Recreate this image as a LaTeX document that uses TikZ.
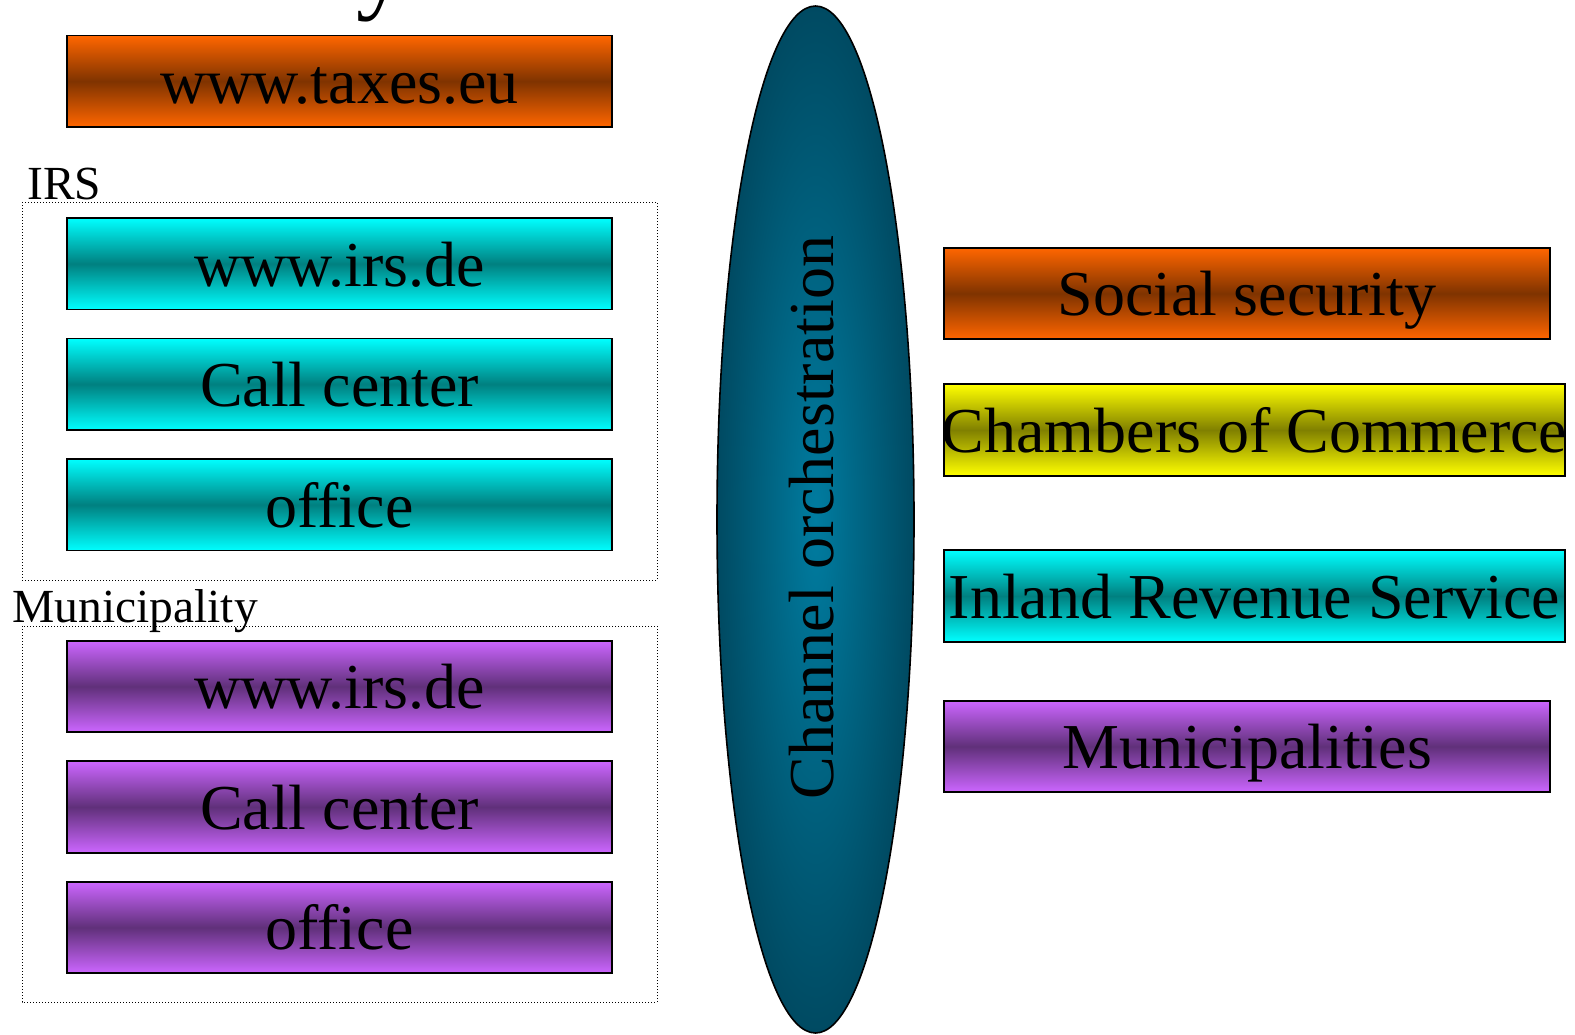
\documentclass[tikz,border=0pt]{standalone}
\usepackage{fontspec}
\setmainfont{Liberation Serif}
\usetikzlibrary{shapes.geometric}
\definecolor{orangeL}{RGB}{255,102,0}
\definecolor{orangeD}{RGB}{127,51,0}
\definecolor{cyanL}{RGB}{0,255,255}
\definecolor{cyanD}{RGB}{0,128,128}
\definecolor{purpleL}{RGB}{204,102,255}
\definecolor{purpleD}{RGB}{96,48,122}
\definecolor{yellowL}{RGB}{255,255,0}
\definecolor{yellowD}{RGB}{128,128,0}
\definecolor{ellIn}{RGB}{0,124,160}
\definecolor{ellOut}{RGB}{0,74,98}
\tikzset{
  box/.style={draw=black, line width=0.9pt, rectangle, inner sep=0pt,
    text height=24pt, text depth=1.75pt,
    minimum height=45.75pt, font=\fontsize{32}{36}\selectfont},
  leftbox/.style={box, minimum width=272.5pt},
  rightbox/.style={box, minimum width=303pt},
  widebox/.style={box, minimum width=310.5pt},
  orangefill/.style={top color=orangeL, bottom color=orangeL, middle color=orangeD},
  cyanfill/.style={top color=cyanL, bottom color=cyanL, middle color=cyanD},
  purplefill/.style={top color=purpleL, bottom color=purpleL, middle color=purpleD},
  yellowfill/.style={top color=yellowL, bottom color=yellowL, middle color=yellowD},
  grouplabel/.style={anchor=base west, inner sep=0pt, font=\fontsize{23.75}{28}\selectfont},
  groupframe/.style={draw=black, line width=0.5pt, densely dotted},
}
\begin{document}
\begin{tikzpicture}[x=0.5pt,y=-0.5pt]
\useasboundingbox (0,0) rectangle (1575,1034);
% cut-off title letter
\node[anchor=base west, inner sep=0pt, font=\fontsize{50}{60}\selectfont] (ttl) at (356,0) {y};
% top box
\node[leftbox, orangefill] (taxes) at (339.5,81.25) {www.taxes.eu};
% IRS group
\node[grouplabel] (irslbl) at (27,199) {IRS};
\draw[groupframe] (22,202) rectangle (657,580);
\node[leftbox, cyanfill] (irsweb) at (339.5,263.75) {www.irs.de};
\node[leftbox, cyanfill] (irscall) at (339.5,384.25) {Call center};
\node[leftbox, cyanfill] (irsoff) at (339.5,504.75) {office};
% Municipality group
\node[grouplabel] (munlbl) at (12,622) {Municipality};
\draw[groupframe] (22,626) rectangle (657,1002);
\node[leftbox, purplefill] (munweb) at (339.5,686.5) {www.irs.de};
\node[leftbox, purplefill] (muncall) at (339.5,807) {Call center};
\node[leftbox, purplefill] (munoff) at (339.5,927.5) {office};
% ellipse
\node[ellipse, draw=black, line width=0.8pt, inner color=ellIn, outer color=ellOut,
  minimum width=98.5pt, minimum height=513.5pt, inner sep=0pt] (orch) at (815.5,519.5) {};
\node[rotate=90, inner sep=0pt, font=\fontsize{32}{36}\selectfont] (orchtxt) at (812,517.5) {Channel orchestration};
% right boxes
\node[rightbox, orangefill] (social) at (1247,293.5) {Social security};
\node[widebox, yellowfill] (chamb) at (1254.5,430) {\makebox[0pt][c]{Chambers of Commerce}};
\node[widebox, cyanfill] (inland) at (1254.5,596) {Inland Revenue Service};
\node[rightbox, purplefill] (munis) at (1247,746.5) {Municipalities};
\end{tikzpicture}
\end{document}
